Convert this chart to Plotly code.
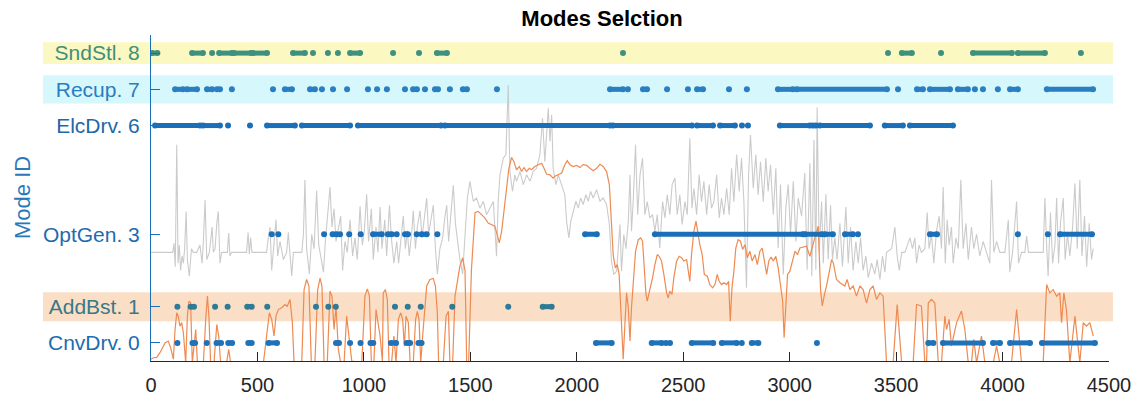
import plotly.graph_objects as go

# ---------------- data ----------------
mode_ids = [8, 7, 6, 3, 1, 0]
mode_names = ["SndStl. 8", "Recup. 7", "ElcDrv. 6", "OptGen. 3", "AddBst. 1", "CnvDrv. 0"]

# time intervals (s) during which each mode is selected; (t, t) = single sample
sndstl_runs = [(5, 30), (193, 244), (287, 287), (320, 380), (390, 470), (480, 545),
               (667, 723), (761, 761), (831, 831), (878, 878), (935, 982), (1137, 1137),
               (1259, 1259), (1343, 1390), (2217, 2217), (3462, 3462), (3527, 3574),
               (3711, 3711), (3861, 4044), (4072, 4199), (4368, 4368)]
recup_runs = [(113, 150), (169, 216), (263, 287), (310, 324), (380, 380), (573, 573),
              (629, 662), (747, 770), (803, 803), (855, 855), (921, 921), (1019, 1019),
              (1062, 1062), (1108, 1108), (1193, 1193), (1231, 1249), (1287, 1287),
              (1334, 1348), (1404, 1404), (1465, 1484), (1625, 1625), (2156, 2217),
              (2240, 2240), (2311, 2330), (2424, 2424), (2522, 2522), (2565, 2593),
              (2715, 2715), (2799, 2799), (2945, 3015), (3034, 3457), (3509, 3509),
              (3598, 3626), (3659, 3753), (3790, 3837), (3870, 3870), (3908, 3908),
              (3978, 3978), (4035, 4072), (4208, 4425)]
elcdrv_runs = [(19, 230), (244, 324), (362, 362), (465, 465), (545, 676), (709, 935),
               (972, 1362), (1381, 2156), (2170, 2541), (2565, 2640), (2673, 2743),
               (2776, 2776), (2804, 2804), (2954, 3095), (3109, 3123), (3142, 3377),
               (3447, 3532), (3565, 3767)]
optgen_runs = [(567, 567), (598, 598), (813, 813), (853, 872), (888, 888), (931, 931),
               (985, 985), (1043, 1084), (1113, 1131), (1154, 1154), (1193, 1207),
               (1248, 1248), (1271, 1295), (1345, 1345), (2039, 2094), (2367, 3062),
               (3072, 3152), (3166, 3203), (3260, 3297), (3321, 3321), (3659, 3692),
               (4072, 4072), (4213, 4213), (4270, 4420)]
addbst_runs = [(124, 124), (186, 202), (301, 301), (360, 360), (452, 473), (546, 546),
               (775, 775), (833, 833), (868, 868), (1146, 1146), (1206, 1206),
               (1267, 1267), (1415, 1415), (1678, 1678), (1840, 1882)]
cnvdrv_runs = [(124, 124), (195, 207), (262, 262), (308, 329), (363, 381), (457, 473),
               (552, 592), (869, 883), (935, 935), (984, 984), (1031, 1044), (1127, 1151),
               (1201, 1217), (1256, 1271), (2090, 2164), (2352, 2399), (2419, 2419),
               (2438, 2438), (2540, 2641), (2681, 2751), (2775, 2775), (2822, 2853),
               (3128, 3128), (3651, 3675), (3720, 3908), (3955, 3988), (4035, 4129),
               (4185, 4434)]

# auxiliary traces (scaled onto the mode axis)
power_t = [0, 102, 108, 114, 121, 127, 133, 139, 146, 152, 158, 165, 171, 180, 190, 199, 215, 230,
           240, 246, 254, 262, 274, 287, 293, 301, 309, 316, 324, 332, 359, 365, 371, 379, 449, 456,
           462, 468, 474, 543, 551, 559, 567, 578, 587, 595, 606, 622, 637, 645, 653, 661, 669, 708,
           716, 723, 731, 744, 755, 766, 778, 788, 797, 810, 819, 830, 841, 850, 860, 869, 880, 891,
           900, 911, 922, 935, 947, 958, 969, 982, 993, 1002, 1013, 1022, 1035, 1044, 1057, 1066,
           1076, 1085, 1098, 1107, 1120, 1129, 1141, 1154, 1163, 1173, 1185, 1195, 1204, 1213,
           1224, 1232, 1242, 1251, 1264, 1273, 1282, 1295, 1304, 1314, 1326, 1336, 1345, 1357,
           1370, 1381, 1389, 1398, 1408, 1420, 1430, 1439, 1451, 1464, 1475, 1486,
           1498, 1514, 1529, 1545, 1561, 1576, 1592, 1608, 1623, 1631, 1639, 1655, 1667, 1678,
           1686, 1698, 1709, 1717, 1733, 1749, 1764, 1780, 1795, 1811, 1827, 1839, 1850, 1866,
           1874, 1882, 1889, 1902, 1913, 1929, 1944, 1952, 1963, 1972, 1983, 1996, 2007, 2018,
           2030, 2043, 2054, 2065, 2077, 2093, 2109, 2124, 2140, 2153, 2163, 2174, 2187, 2195,
           2203, 2210, 2221, 2231, 2242, 2250, 2257, 2265, 2276, 2286, 2297, 2309, 2320, 2331,
           2343, 2356, 2367, 2378, 2390, 2403, 2414, 2425, 2437, 2448, 2461, 2472, 2484, 2495,
           2508, 2519, 2531, 2541, 2550, 2563, 2575, 2586, 2597, 2610, 2622, 2633, 2644, 2657,
           2669, 2680, 2691, 2704, 2716, 2727, 2738, 2751, 2763, 2774, 2785, 2797, 2807, 2816,
           2829, 2841, 2852, 2863, 2876, 2888, 2899, 2910, 2923, 2935, 2946, 2957, 2970, 2982,
           2993, 3004, 3017, 3029, 3040,
           3056, 3071, 3082, 3095, 3104, 3114, 3123, 3129, 3139, 3150, 3158, 3170, 3181, 3192,
           3201, 3212, 3223, 3236, 3248, 3264, 3275, 3286, 3298, 3311, 3322, 3333, 3345, 3358,
           3369, 3385, 3400, 3411, 3424, 3436, 3447, 3455, 3479, 3494, 3505, 3515, 3526, 3541,
           3565, 3577, 3588, 3596, 3608, 3619, 3635, 3646, 3655, 3666, 3677, 3690, 3702, 3713,
           3721, 3731, 3740, 3749, 3760, 3768, 3781, 3792, 3804, 3815, 3828, 3839, 3854, 3865,
           3878, 3893, 3909, 3925, 3940, 3948, 3959, 3972, 3987, 4011, 4027, 4034, 4047, 4066,
           4075, 4089, 4105, 4113, 4122, 4191, 4199, 4207, 4214, 4225, 4235, 4246, 4254, 4263,
           4272, 4285, 4294, 4305, 4316, 4329, 4340, 4351, 4363, 4373, 4385, 4395, 4407, 4418,
           4426]
power_v = [2.5, 2.5, 2.75, 2.1, 5.47, 2.2, 2.7, 2.0, 2.4, 2.2, 2.6, 3.63, 2.3, 1.84, 2.6, 2.5, 2.5, 2.7,
           2.2, 2.8, 3.95, 2.3, 2.5, 3.2, 2.5, 2.6, 3.3, 3.63, 2.2, 2.5, 2.5, 3.03, 2.4, 2.5, 2.5, 3.05,
           2.45, 2.9, 2.5, 2.5, 2.9, 3.2, 2.0, 2.9, 3.4, 2.4, 2.8, 2.3, 2.5, 3.05, 2.4, 1.85, 2.5, 2.5,
           3.0, 4.5, 2.6, 1.9, 3.0, 2.6, 4.2, 2.7, 2.4, 1.95, 2.8, 3.5, 4.3, 3.2, 3.7, 2.8, 3.2, 3.5,
           2.0, 2.8, 2.5, 3.4, 2.4, 2.9, 2.3, 3.77, 2.7, 3.1, 4.1, 2.8, 3.7, 2.3, 3.2, 2.5,
           3.75, 2.6, 3.4, 2.4, 3.8, 2.9, 2.2, 2.8, 2.2, 2.9, 3.5, 2.6, 3.1, 2.4,
           3.0, 3.65, 2.6, 3.2, 3.65, 2.9, 3.3, 4.0, 3.0, 3.4, 3.8, 2.6, 1.9, 2.6,
           2.9, 3.5, 3.8, 2.8, 3.6, 4.35, 3.3, 2.8, 2.3, 1.9, 3.0, 4.0,
           4.46, 3.91, 4.0, 3.72, 3.91, 3.54, 3.72, 3.9, 2.39, 3.9, 4.64, 5.1, 5.2, 7.12,
           4.73, 4.18, 4.64, 4.46, 4.73, 4.37, 4.64, 4.46, 4.73, 4.82, 5.2, 6.2, 5.0, 6.48,
           5.56, 6.3, 4.82, 4.37, 4.64, 4.37, 4.09, 3.36, 2.9, 3.36, 3.63, 3.91, 3.72, 4.0,
           3.82, 4.09, 3.91, 4.18, 4.0, 4.23, 3.91, 4.0, 3.82, 3.27, 2.26, 1.89, 1.98, 2.62,
           3.27, 1.98, 2.99, 2.6, 3.36, 4.64, 3.08, 3.9, 5.47, 3.54, 4.64, 5.1, 3.54, 3.9,
           3.45, 3.54, 3.08, 3.54, 2.62, 3.9, 3.45, 4.09, 3.54, 4.37, 4.55, 3.54, 4.09, 3.27,
           3.9, 3.54, 5.65, 3.72, 4.27, 3.54, 4.64, 3.9, 4.46, 3.54, 4.37, 3.72, 3.9, 4.64,
           3.45, 4.0, 3.54, 4.27, 3.54, 4.82, 3.9, 5.2, 4.18, 5.1, 3.9, 1.52, 4.64, 5.74,
           4.27, 5.2, 4.09, 5.0, 3.9, 5.1, 4.18, 4.92, 3.54, 4.82, 2.62, 4.37, 1.89, 3.72,
           4.37, 2.99, 4.46, 2.8, 4.0,
           3.5, 4.69, 2.02, 4.96, 1.84, 5.6, 2.02, 6.5, 2.5, 3.9, 2.2, 4.1, 2.3, 3.8,
           2.3, 2.9, 2.3, 3.3, 2.1, 3.75, 2.2, 3.2, 2.0, 2.8, 2.2, 2.9, 2.0, 2.4,
           1.8, 2.2, 1.9, 2.3, 1.75, 2.4, 1.95, 2.5, 2.6, 3.2, 2.4, 2.0, 2.5, 2.5,
           2.9, 2.6, 2.9, 2.2, 2.7, 2.5, 2.6, 3.6, 2.6, 3.0, 2.2, 3.1, 3.5, 2.6,
           4.3, 2.2, 3.4, 2.7, 3.2, 2.2, 2.9, 2.6, 4.5, 2.6, 3.3, 2.3, 3.2, 2.6,
           3.0, 2.4, 2.8, 2.5, 2.2, 4.5, 2.5, 2.8, 2.5, 2.5, 3.4, 1.95, 2.5, 3.9,
           2.2, 2.5, 2.5, 2.95, 2.5, 2.5, 4.0, 2.7, 1.85, 3.6, 2.2, 2.7, 4.0, 2.2,
           3.3, 4.0, 2.3, 3.0, 2.4, 3.2, 4.4, 2.6, 4.5, 2.4, 3.5, 2.1, 3.3, 2.3,
           2.6]

speed_t = [0, 11, 27, 42, 66, 81, 92, 105, 113, 121, 128, 136, 144, 152, 163, 171, 178, 186, 194,
           202, 210, 218, 246, 258, 265, 272, 280, 296, 309, 318, 327, 355, 365, 374, 528, 543,
           556, 567, 578, 587, 598, 614, 629, 640, 653, 664, 672, 708, 719, 731, 742, 753, 770,
           783, 794, 803, 813, 828, 841, 850, 860, 869, 880, 891, 907, 919, 930, 943, 990, 1005,
           1016, 1026, 1035, 1047, 1057, 1066, 1076, 1087, 1091, 1101, 1110, 1118, 1130, 1141,
           1151, 1162, 1173, 1182, 1190, 1198, 1209, 1217, 1232, 1243, 1251, 1259, 1267, 1276,
           1284, 1295, 1310, 1326, 1336, 1345, 1351, 1373, 1386, 1397, 1404, 1417, 1428, 1439,
           1451, 1464, 1475, 1483, 1492, 1505, 1522, 1537,
           1553, 1568, 1584, 1600, 1615, 1626, 1636, 1647, 1659, 1670, 1681, 1694, 1705, 1717,
           1730, 1741, 1752, 1764, 1777, 1788, 1803, 1819, 1835, 1846, 1858, 1874, 1889, 1897,
           1913, 1929, 1944, 1955, 1968, 1983, 1999, 2015, 2030, 2046, 2062, 2077, 2093, 2109,
           2124, 2140, 2153, 2162, 2171, 2181, 2190, 2199, 2209, 2218, 2226, 2234, 2242, 2250,
           2257, 2265, 2276, 2289, 2300, 2309, 2315, 2325, 2331, 2343, 2356, 2367, 2378, 2387,
           2398, 2409, 2422, 2430, 2437, 2447, 2456, 2469, 2481, 2492, 2503, 2516, 2524, 2531,
           2539, 2550, 2560, 2567, 2578, 2589, 2599, 2613, 2625, 2638, 2649, 2660, 2669, 2680,
           2691, 2704, 2713, 2721, 2729, 2738, 2747, 2758, 2769, 2779, 2790, 2801, 2813, 2824,
           2837, 2848, 2860, 2871, 2882, 2892, 2902, 2913, 2923, 2935, 2946, 2957, 2967, 2974,
           2982, 2990, 3001, 3014, 3025, 3037, 3048,
           3079, 3095, 3118, 3134, 3145, 3153, 3165, 3173, 3197, 3205, 3220, 3236, 3259, 3270,
           3283, 3298, 3314, 3330, 3345, 3361, 3377, 3392, 3408, 3424, 3439, 3455, 3486, 3505,
           3526, 3580, 3596, 3619, 3635, 3643, 3651, 3666, 3682, 3698, 3713, 3729, 3737, 3749,
           3760, 3784, 3807, 3823, 3839, 3854, 3865, 3878, 3901, 3917, 3956, 3972, 3987, 4042,
           4066, 4089, 4191, 4207, 4222, 4238, 4254, 4269, 4277, 4288, 4300, 4316, 4340, 4363,
           4379, 4394, 4410, 4426]
speed_v = [-0.45, -0.41, -0.4, -0.27, 0.0, 0.05, -0.13, -0.45, 0.37, 0.83, 0.74, 0.46, 0.56, 0.28, -0.55,
           0.74, 1.15, 1.11, -0.55, 0.0, 0.37, -0.55, -0.55, 0.74, 1.29, 0.74, -0.55, -0.55, 0.51,
           0.19, -0.55, -0.55, -0.18, -0.55, -0.55, 0.19, 0.83, 0.65, 0.19, 0.74, 0.92, 0.97, 1.06,
           1.01, 1.2, 0.56, -0.55, -0.55, 1.47, 1.75, 1.57, -0.55, -0.55, 1.47, 1.79, 1.57, -0.55,
           -0.55, 1.43, 1.29, 0.37, 1.01, -0.18, -0.55, -0.55, 0.74, 0.19, -0.5, -0.55, 1.29,
           1.49, 1.29, -0.55, -0.55, 0.92, 0.56, 0.19, -0.5, 1.38, 1.47, 1.2, -0.55, -0.55, 0.19,
           -0.55, 0.65, 0.83, 0.65, -0.09, 0.74, 0.56, -0.55, -0.55, 0.65, 0.87, 0.65, -0.55, 0.19,
           0.83, 1.57, 1.75, 1.78, 1.57, 0.83, -0.55, -0.55, 0.74, 0.87, -0.55, -0.55, 1.29, 1.75,
           2.12, 2.35, 2.0, -0.55, -0.55, 2.0, 3.6, 3.63,
           3.54, 3.45, 3.31, 3.27, 3.22, 2.99, 2.76, 3.08, 3.72, 4.27, 4.82, 5.12, 5.0, 4.78,
           4.87, 4.73, 4.84, 4.73, 4.82, 4.78, 4.87, 4.92, 4.96, 4.82, 4.66, 4.64, 4.55, 4.6,
           4.64, 4.69, 4.92, 5.03, 4.92, 4.87, 4.9, 4.84, 4.92, 4.9, 4.82, 4.75, 4.82, 4.93,
           4.87, 4.73, 4.37, 3.27, 2.44, 2.07, 2.16, 1.89, 0.51, -0.45, 0.51, 1.38, 0.97, 0.05,
           0.97, 1.7, 2.53, 2.85, 2.9, 2.81, 2.26, 1.34, 1.15, 1.43, 1.8, 2.16, 2.44, 2.39,
           2.26, 1.89, 1.38, 1.24, 1.43, 1.34, 1.8, 2.26, 2.39, 2.35, 2.26, 2.3, 1.89, 1.7,
           2.44, 3.08, 3.36, 3.08, 2.71, 2.44, 1.89, 1.84, 1.61, 1.52, 1.61, 1.89, 1.7, 1.61,
           1.66, 1.61, 1.7, 0.6, 1.52, 1.98, 2.62, 2.85, 2.81, 2.58, 2.71, 2.35, 2.53, 2.26,
           2.44, 2.16, 2.53, 2.62, 2.26, 1.89, 2.26, 2.37, 2.26, 2.39, 2.07, 1.52, 1.15, 0.14,
           1.15, 1.89, 1.98, 2.26, 2.53, 2.44, 2.62,
           2.67, 2.39, 2.9, 3.22, 1.47, 1.02, 1.38, 1.57, 2.3, 2.21, 1.75, 1.66, 1.57, 1.75,
           1.47, 1.57, 1.29, 1.57, 1.47, 1.1, 1.47, 1.57, 1.2, 1.38, 1.29, -0.55, -0.55, 1.06,
           -0.55, -0.55, 1.06, 1.02, -0.55, -0.55, 1.1, 1.2, 1.1, -0.55, -0.55, 0.74, 0.37, 0.65,
           -0.09, 0.56, 0.88, 0.37, -0.55, -0.55, 0.1, -0.55, 0.19, -0.55, -0.55, -0.09, -0.55, -0.55,
           0.92, -0.55, -0.55, 1.61, 1.38, 1.47, 1.29, 1.38, 0.56, 1.38, 0.92, -0.55, 0.74, -0.55,
           0.56, 0.46, 0.56, 0.19]

x_ticks = [0, 500, 1000, 1500, 2000, 2500, 3000, 3500, 4000, 4500]

# ---------------- styling ----------------
Y_LO, Y_HI = -0.5, 8.5
FONT = "Arial, Liberation Sans, sans-serif"
BLUE = "#1a6fb6"
label_colors = ["#3f8f7a", "#2a7dbf", "#1c68aa", "#1c6cb0", "#3a7888", "#1c6cb0"]
marker_colors = {8: "#3f917f", 7: "#2a7fc2", 6: "#1a6fb8", 3: "#1a6fb8", 1: "#2f7a96", 0: "#1f72b8"}
# highlighted rows: (mode, half height, colour)
bands = [(8, 0.30, "#fbf8c2"), (7, 0.39, "#d6f7fb"), (1, 0.40, "#fadfc6")]

fig = go.Figure()

fig.add_trace(go.Scatter(x=power_t, y=power_v, mode="lines",
                         line=dict(color="#cbcbcb", width=1.1), hoverinfo="skip"))
fig.add_trace(go.Scatter(x=speed_t, y=speed_v, mode="lines",
                         line=dict(color="#ee8a52", width=1.2), hoverinfo="skip"))


def run_trace(runs, mode_id):
    xs, ys = [], []
    for a, b in runs:
        if a == b:
            xs += [a, None]
            ys += [mode_id, None]
        else:
            xs += [a, b, None]
            ys += [mode_id, mode_id, None]
    col = marker_colors[mode_id]
    return go.Scatter(x=xs, y=ys, mode="lines+markers", connectgaps=False,
                      line=dict(color=col, width=5),
                      marker=dict(color=col, size=6, line=dict(width=0)),
                      hoverinfo="skip")


for runs, mid in [(cnvdrv_runs, 0), (addbst_runs, 1), (optgen_runs, 3),
                  (elcdrv_runs, 6), (recup_runs, 7), (sndstl_runs, 8)]:
    fig.add_trace(run_trace(runs, mid))

PLOT_L, PLOT_R = 151, 1109
PLOT_T, PLOT_B = 35, 361
plot_w = PLOT_R - PLOT_L
shapes = []
for mid, half, col in bands:
    shapes.append(dict(type="rect", xref="paper", yref="paper",
                       x0=(43 - PLOT_L) / plot_w, x1=(1113 - PLOT_L) / plot_w,
                       y0=(mid - half - Y_LO) / (Y_HI - Y_LO),
                       y1=(mid + half - Y_LO) / (Y_HI - Y_LO),
                       fillcolor=col, line=dict(width=0), layer="below"))

tick_text = [f'<span style="color:{c}">{n}</span>' for n, c in zip(mode_names, label_colors)]

fig.update_layout(
    width=1142, height=398,
    margin=dict(l=PLOT_L, r=1142 - PLOT_R, t=PLOT_T, b=398 - PLOT_B, autoexpand=False),
    paper_bgcolor="white", plot_bgcolor="rgba(0,0,0,0)",
    showlegend=False,
    font=dict(family=FONT, size=20, color="#262626"),
    shapes=shapes,
    title=dict(text="<b>Modes Selction</b>", x=(602 - PLOT_L) / plot_w, xref="paper",
               xanchor="center", y=1 - 18 / 398, yref="container", yanchor="middle",
               font=dict(family=FONT, size=22, color="#000000")),
    xaxis=dict(range=[0, 4500], tickvals=x_ticks, ticks="inside", ticklen=9,
               tickcolor="#262626", tickwidth=1, showline=True, linecolor="#262626",
               linewidth=1, showgrid=False, zeroline=False, automargin=False,
               tickfont=dict(size=20, color="#262626"), ticklabelstandoff=6),
    yaxis=dict(range=[Y_LO, Y_HI], tickvals=mode_ids, ticktext=tick_text,
               ticks="inside", ticklen=9, tickcolor=BLUE, tickwidth=1,
               showline=True, linecolor=BLUE, linewidth=1, showgrid=False,
               zeroline=False, automargin=False, tickfont=dict(size=21),
               ticklabelstandoff=6),
    annotations=[dict(text="Mode ID", textangle=-90, xref="paper", yref="paper",
                      x=(22 - PLOT_L) / plot_w, y=0.5, xanchor="center", yanchor="middle",
                      showarrow=False, font=dict(family=FONT, size=22, color="#2a78b8"))],
)

fig.write_html("out.html")
